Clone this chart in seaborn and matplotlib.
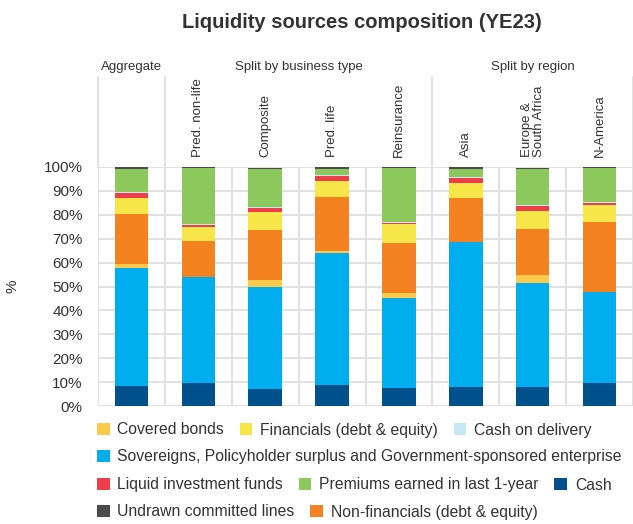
import numpy as np
import pandas as pd
import matplotlib
matplotlib.use('Agg')
import matplotlib.pyplot as plt
from matplotlib.patches import Patch
import seaborn as sns

# categories (columns of the chart)
categorias = ['Aggregate', 'Pred. non-life', 'Composite', 'Pred. life', 'Reinsurance',
              'Asia', 'Europe &\nSouth Africa', 'N-America']

# series values in % (bottom to top of each bar)
cash = [8.3, 9.6, 7.1, 8.8, 7.5, 7.9, 7.9, 9.6]
sovereigns = [49.6, 44.2, 42.8, 55.2, 37.5, 60.9, 43.4, 37.9]
covered_bonds = [1.7, 0.0, 3.0, 1.0, 2.1, 0.0, 3.7, 0.0]
non_financials = [20.8, 15.4, 20.9, 22.5, 21.2, 18.3, 19.2, 29.6]
financials = [6.7, 5.7, 7.5, 6.5, 8.0, 6.2, 7.5, 7.1]
liquid_funds = [2.1, 0.8, 1.6, 2.2, 0.4, 2.1, 2.0, 0.8]
cash_on_delivery = [0.4, 0.6, 0.4, 0.3, 0.4, 0.4, 0.5, 0.4]
premiums = [9.6, 23.3, 15.9, 2.7, 22.5, 3.4, 15.0, 14.2]
undrawn = [0.8, 0.4, 0.4, 0.8, 0.4, 0.8, 0.4, 0.4]

yticks = list(range(0, 101, 10))

series = [
    ('Cash', cash, '#00508C'),
    ('Sovereigns, Policyholder surplus and Government-sponsored enterprise', sovereigns, '#00AEEF'),
    ('Covered bonds', covered_bonds, '#FFC94C'),
    ('Non-financials (debt & equity)', non_financials, '#F58220'),
    ('Financials (debt & equity)', financials, '#F6E647'),
    ('Liquid investment funds', liquid_funds, '#EE3E4B'),
    ('Cash on delivery', cash_on_delivery, '#C7E9F6'),
    ('Premiums earned in last 1-year', premiums, '#8CC85B'),
    ('Undrawn committed lines', undrawn, '#4B4B4D'),
]
cores = {nome: cor for nome, _, cor in series}

df = pd.DataFrame({nome: vals for nome, vals, _ in series}, index=categorias)
acumulado = df.cumsum(axis=1)

sns.set_style('white')
plt.rcParams['font.family'] = ['Liberation Sans', 'DejaVu Sans']
texto = '#333333'
grade = '#E1E1E1'

fig = plt.figure(figsize=(6.33, 5.24), dpi=100)
ax = fig.add_axes([98/633, (524-406)/524, 535/633, (406-167)/524])

# stacked bars: draw cumulative tops from the top layer down
for nome, _, cor in reversed(series):
    sns.barplot(x=categorias, y=acumulado[nome].values, order=categorias,
                color=cor, saturation=1, width=0.5, linewidth=0, ax=ax, zorder=3)

ax.set_xlim(-0.5, 7.5)
ax.set_ylim(0, 100)
ax.set_yticks(yticks, labels=[f'{t}%' for t in yticks])
ax.set_xticks(np.arange(-0.5, 8, 1), minor=True)
ax.set_xticks(range(len(categorias)), labels=[])
ax.tick_params(axis='both', which='both', length=0)
ax.tick_params(axis='y', labelsize=11, labelcolor=texto, pad=11)
ax.grid(axis='y', which='major', color=grade, linewidth=1.4, zorder=0)
ax.grid(axis='x', which='minor', color=grade, linewidth=1.4, zorder=0)
ax.set_axisbelow(True)
for s in ax.spines.values():
    s.set_visible(False)
ax.set_xlabel('')
ax.set_ylabel('%', fontsize=11, color=texto)
ax.yaxis.set_label_coords(-0.146, 0.5)

# header area above the plot
for xl in [-0.5, 0.5, 4.5, 7.5]:
    ax.plot([xl, xl], [100, 137.5], color=grade, linewidth=1.4, clip_on=False, zorder=0)
for i, cat in enumerate(categorias[1:], start=1):
    ax.text(i, 104, cat, rotation=90, ha='center', va='bottom', multialignment='left',
            fontsize=9.5, color=texto, clip_on=False, linespacing=1.0)
ax.text(0, 142, 'Aggregate', ha='center', va='center', fontsize=9.5, color=texto)
ax.text(2.5, 142, 'Split by business type', ha='center', va='center', fontsize=9.5, color=texto)
ax.text(6.0, 142, 'Split by region', ha='center', va='center', fontsize=9.5, color=texto)

fig.text(362/633, 1 - 22/524, 'Liquidity sources composition (YE23)',
         ha='center', va='center', fontsize=14.5, fontweight='bold', color=texto)

# legend laid out in four rows
linhas = [
    ['Covered bonds', 'Financials (debt & equity)', 'Cash on delivery'],
    ['Sovereigns, Policyholder surplus and Government-sponsored enterprise'],
    ['Liquid investment funds', 'Premiums earned in last 1-year', 'Cash'],
    ['Undrawn committed lines', 'Non-financials (debt & equity)'],
]
ys = [430, 457, 485, 512]
for nomes, y in zip(linhas, ys):
    handles = [Patch(facecolor=cores[n], edgecolor='none') for n in nomes]
    fig.legend(handles, nomes, loc='center left', bbox_to_anchor=(97/633, 1 - y/524),
               ncol=len(nomes), frameon=False, fontsize=11.3, labelcolor=texto,
               handlelength=0.8, handleheight=0.8, handletextpad=0.5,
               columnspacing=1.0, borderpad=0, borderaxespad=0)

fig.savefig('out.png', dpi=100)
